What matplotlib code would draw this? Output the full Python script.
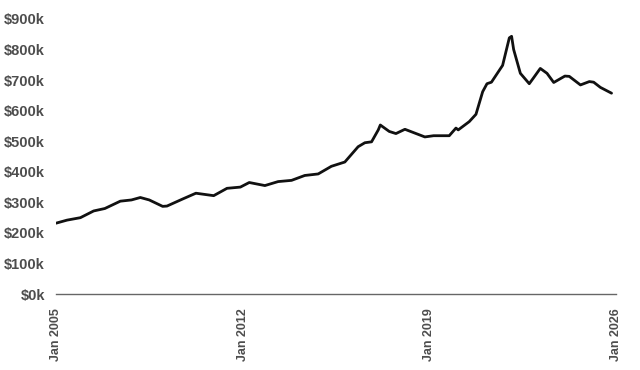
import matplotlib
matplotlib.use("Agg")
import matplotlib.pyplot as plt
import matplotlib.dates as mdates
import pandas as pd

# ---- data ----
months = [
    "2005-01", "2005-06", "2005-12", "2006-06", "2006-11", "2007-06", "2007-11",
    "2008-03", "2008-07", "2009-01", "2009-03", "2009-10", "2010-04", "2010-12",
    "2011-06", "2011-12", "2012-04", "2012-11", "2013-05", "2013-11", "2014-05",
    "2014-11", "2015-05", "2015-11", "2016-05", "2016-08", "2016-11", "2017-02",
    "2017-03", "2017-07", "2017-10", "2018-02", "2018-06", "2018-11", "2019-03",
    "2019-10", "2020-01", "2020-02", "2020-07", "2020-10", "2021-01", "2021-03",
    "2021-05", "2021-10", "2022-01", "2022-02", "2022-03", "2022-06", "2022-10",
    "2022-12", "2023-03", "2023-06", "2023-09", "2024-02", "2024-04", "2024-09",
    "2025-01", "2025-03", "2025-06", "2025-11",
]
values_k = [
    232, 242, 250, 272, 280, 304, 308,
    316, 308, 287, 288, 311, 330, 322,
    346, 350, 365, 355, 368, 372, 388,
    393, 418, 432, 482, 495, 498, 537,
    553, 532, 525, 539, 528, 514, 518,
    518, 543, 537, 564, 588, 662, 688,
    693, 748, 838, 843, 800, 722, 688,
    708, 738, 722, 692, 713, 712, 684,
    695, 693, 676, 657,
]
y_ticks = [0, 100, 200, 300, 400, 500, 600, 700, 800, 900]
x_ticks = ["2005-01", "2012-01", "2019-01", "2026-01"]

dates = pd.to_datetime(months)
vals = [v * 1000 for v in values_k]

fig = plt.figure(figsize=(6.4, 3.7), dpi=100)
ax = fig.add_axes([0.0875, 0.205, 0.875, 0.744])

ax.plot(dates, vals, color="#111111", lw=2.0, solid_joinstyle="round", solid_capstyle="round")

ax.set_ylim(0, 900000)
ax.set_xlim(pd.Timestamp("2005-01-01"), pd.Timestamp("2026-01-01"))

ax.set_yticks([t * 1000 for t in y_ticks])
ax.set_yticklabels([f"${t}k" for t in y_ticks])
ax.set_xticks(pd.to_datetime(x_ticks))
ax.xaxis.set_major_formatter(mdates.DateFormatter("Jan %Y"))

label_color = "#4d4d4d"
for lab in ax.get_yticklabels():
    lab.set_fontweight("bold")
    lab.set_fontsize(10.5)
    lab.set_color(label_color)
    lab.set_family("Liberation Sans")
for lab in ax.get_xticklabels():
    lab.set_fontweight("bold")
    lab.set_fontsize(9)
    lab.set_color(label_color)
    lab.set_family("Liberation Sans")
    lab.set_rotation(90)
    lab.set_va("top")
    lab.set_ha("center")

ax.tick_params(axis="both", length=0)
ax.tick_params(axis="y", pad=8)
ax.tick_params(axis="x", pad=10)

for side in ["top", "right", "left"]:
    ax.spines[side].set_visible(False)
ax.spines["bottom"].set_color("#666666")
ax.spines["bottom"].set_linewidth(1.0)

fig.savefig("out.png", dpi=100)
